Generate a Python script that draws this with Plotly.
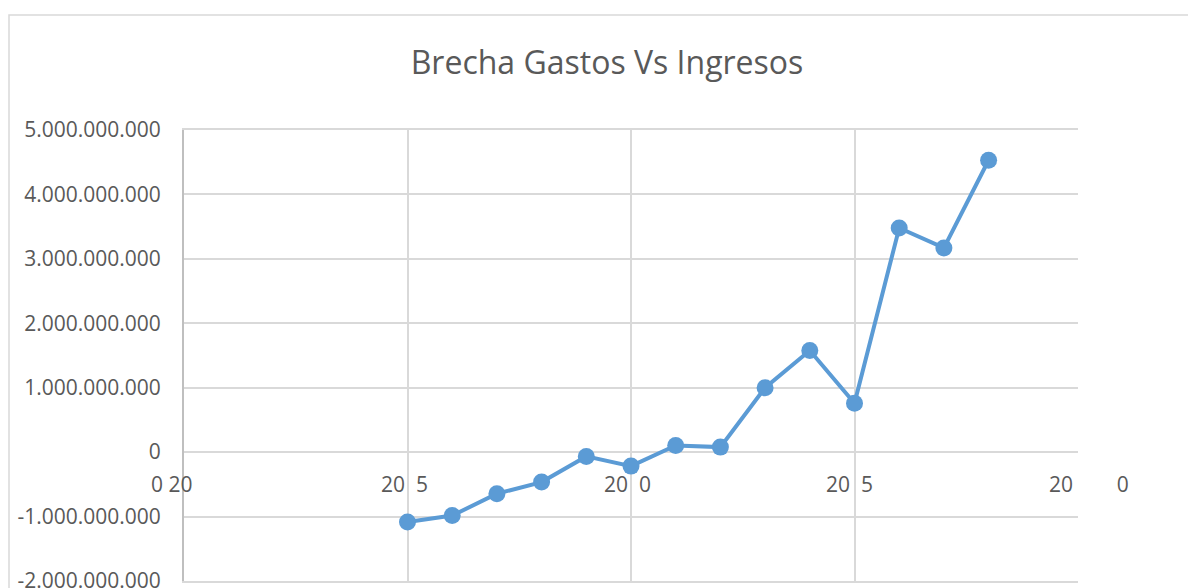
import plotly.graph_objects as go

# Data
years = [2005, 2006, 2007, 2008, 2009, 2010, 2011, 2012, 2013, 2014, 2015, 2016, 2017, 2018]
brecha = [-1.085e9, -0.985e9, -0.645e9, -0.465e9, -0.066e9, -0.217e9, 0.104e9, 0.078e9,
          1.0e9, 1.577e9, 0.76e9, 3.48e9, 3.17e9, 4.53e9]

y_tick_vals = [-2e9, -1e9, 0, 1e9, 2e9, 3e9, 4e9, 5e9]
y_tick_text = ["-2.000.000.000", "-1.000.000.000", "0", "1.000.000.000", "2.000.000.000",
               "3.000.000.000", "4.000.000.000", "5.000.000.000"]

x_tick_vals = [2000, 2005, 2010, 2015, 2020]
x_tick_text = ["0 20", "20\u00a0\u00a05", "20\u00a0\u00a00", "20\u00a0\u00a05",
               "20" + "\u00a0" * 8 + "0"]
x_tick_shift = [-13, -3, -4, -5, 11]

title_text = "Brecha Gastos Vs Ingresos"

FONT = "Open Sans"
GRAY = "#595959"
GRID = "#d9d9d9"
BLUE = "#5b9bd5"

fig = go.Figure()
fig.add_trace(go.Scatter(
    x=years, y=brecha, mode="lines+markers",
    line=dict(color=BLUE, width=4),
    marker=dict(color=BLUE, size=17, line=dict(width=0)),
    showlegend=False, cliponaxis=False,
))

for xv, txt, sh in zip(x_tick_vals, x_tick_text, x_tick_shift):
    fig.add_annotation(x=xv, y=0, xref="x", yref="y", text=txt, showarrow=False,
                       xanchor="center", yanchor="middle", yshift=-32, xshift=sh,
                       font=dict(family=FONT, size=21, color=GRAY))

W, H = 1188, 588
ml, mr, mt, mb = 184, 110, 130, 7
pw, ph = W - ml - mr, H - mt - mb

def px_to_paper_x(px):
    return (px - ml) / pw

def px_to_paper_y(py):
    return (H - mb - py) / ph

# outer chart border
fig.add_shape(type="rect", xref="paper", yref="paper",
              x0=px_to_paper_x(9), x1=px_to_paper_x(1200),
              y0=px_to_paper_y(600), y1=px_to_paper_y(15),
              line=dict(color=GRID, width=1.5), fillcolor="rgba(0,0,0,0)", layer="below")

fig.update_layout(
    width=W, height=H,
    margin=dict(l=ml, r=mr, t=mt, b=mb, autoexpand=False),
    paper_bgcolor="white", plot_bgcolor="white",
    title=dict(text=title_text, x=px_to_paper_x(607), xref="paper", xanchor="center",
               y=1 - 63 / H, yref="container", yanchor="middle",
               font=dict(family=FONT, size=32, color=GRAY)),
    font=dict(family=FONT, color=GRAY),
)
fig.update_xaxes(range=[2000, 2020], tickvals=x_tick_vals, ticktext=[""] * len(x_tick_vals),
                 showgrid=True, gridcolor=GRID, gridwidth=2, zeroline=False,
                 showline=True, linecolor=GRID, linewidth=2, mirror=True, automargin=False)
fig.update_yaxes(range=[-2e9, 5e9], tickvals=y_tick_vals, ticktext=y_tick_text,
                 showgrid=True, gridcolor=GRID, gridwidth=2, zeroline=True,
                 zerolinecolor=GRID, zerolinewidth=2,
                 showline=True, linecolor="#bfbfbf", linewidth=2, automargin=False,
                 ticklabelstandoff=17, ticklabeloverflow="allow",
                 tickfont=dict(family=FONT, size=21, color=GRAY))

fig.write_html("out.html", config={"displayModeBar": False},
               post_script="document.body.style.margin='0';")
